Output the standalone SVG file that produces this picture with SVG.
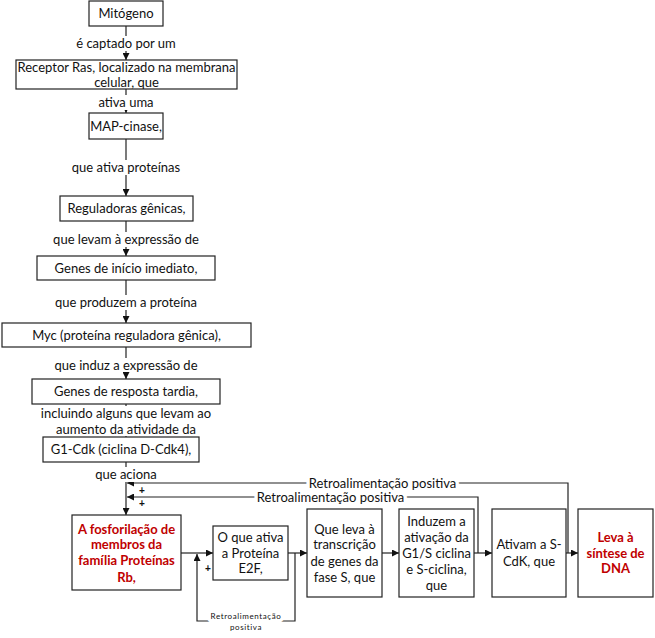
<svg xmlns="http://www.w3.org/2000/svg" width="655" height="638" viewBox="0 0 655 638">
<defs>
<marker id="ah" viewBox="0 0 10 10" refX="10" refY="5" markerWidth="7" markerHeight="7" orient="auto" markerUnits="userSpaceOnUse"><path d="M0,0 L10,5 L0,10 z" fill="#111"/></marker>
<style>
.box{fill:#fff;stroke:#222;stroke-width:1.2}
.t{font-family:Lato,"Liberation Sans",sans-serif;font-size:13px;fill:#111;text-anchor:middle}
.r{font-weight:bold;fill:#C00000}
.lbl{stroke:#fff;stroke-width:7;paint-order:stroke;stroke-linejoin:round}
.bg{fill:#fff;stroke:none}
.c{fill:none;stroke:#222;stroke-width:1.2}
.p{font-family:"Liberation Sans",sans-serif;font-size:10px;font-weight:bold;fill:#111;text-anchor:middle}
.s{font-family:Lato,"Liberation Sans",sans-serif;font-size:8px;letter-spacing:0.6px;fill:#111;text-anchor:middle}
</style>
</defs>
<rect width="655" height="638" fill="#fff"/>
<g id="connectors">
<path class="c" d="M126,26 V60" marker-end="url(#ah)"/>
<path class="c" d="M126,89 V113" marker-end="url(#ah)"/>
<path class="c" d="M126,139 V196" marker-end="url(#ah)"/>
<path class="c" d="M126,221 V256" marker-end="url(#ah)"/>
<path class="c" d="M126,280 V323" marker-end="url(#ah)"/>
<path class="c" d="M126,347 V379" marker-end="url(#ah)"/>
<path class="c" d="M126,404 V437"/>
<path class="c" d="M126,462 V515" marker-end="url(#ah)"/>
<path class="c" d="M568,553 V483 H127" marker-end="url(#ah)"/>
<path class="c" d="M478,553 V497 H127" marker-end="url(#ah)"/>
<path class="c" d="M181,553 H213" marker-end="url(#ah)"/>
<path class="c" d="M288,553 H307" marker-end="url(#ah)"/>
<path class="c" d="M382,553 H399" marker-end="url(#ah)"/>
<path class="c" d="M474,553 H492" marker-end="url(#ah)"/>
<path class="c" d="M566,553 H578" marker-end="url(#ah)"/>
<path class="c" d="M295,553 V621 H197 V554" marker-end="url(#ah)"/>
<rect class="bg" x="116" y="36" width="20" height="15"/>
<rect class="bg" x="116" y="95" width="20" height="15"/>
<rect class="bg" x="116" y="160" width="20" height="15"/>
<rect class="bg" x="116" y="232" width="20" height="15"/>
<rect class="bg" x="116" y="295" width="20" height="15"/>
<rect class="bg" x="116" y="358" width="20" height="14"/>
<rect class="bg" x="116" y="406" width="20" height="30"/>
<rect class="bg" x="116" y="467" width="20" height="15"/>
<text class="t" x="126" y="47.5">é captado por um</text>
<text class="t" x="126" y="106.5">ativa uma</text>
<text class="t" x="126" y="171.5">que ativa proteínas</text>
<text class="t" x="126" y="243.5">que levam à expressão de</text>
<text class="t" x="126" y="306.5">que produzem a proteína</text>
<text class="t" x="126" y="369.5">que induz a expressão de</text>
<text class="t" x="126" y="417.5">incluindo alguns que levam ao</text>
<text class="t" x="126" y="433.5">aumento da atividade da</text>
<text class="t" x="126" y="478.5">que aciona</text>
<text class="t lbl" x="382.5" y="487.5">Retroalimentação positiva</text>
<text class="t lbl" x="330.5" y="501.5">Retroalimentação positiva</text>
<text class="p" x="142" y="493.5">+</text>
<text class="p" x="142" y="507">+</text>
<text class="p" x="208" y="571.5">+</text>
<text class="s lbl" x="246" y="618.5">Retroalimentação</text>
<text class="s lbl" x="246" y="630">positiva</text>
</g>
<g id="n1"><rect class="box" x="89" y="1" width="74" height="25"/><text class="t" x="126" y="18">Mitógeno</text></g>
<g id="n2"><rect class="box" x="16" y="60" width="221" height="29"/><text class="t" x="126.5" y="71.5">Receptor Ras, localizado na membrana</text><text class="t" x="126.5" y="86.5">celular, que</text></g>
<g id="n3"><rect class="box" x="89" y="113" width="74" height="26"/><text class="t" x="126" y="130.5">MAP-cinase,</text></g>
<g id="n4"><rect class="box" x="60" y="196" width="133" height="25"/><text class="t" x="126.5" y="213">Reguladoras gênicas,</text></g>
<g id="n5"><rect class="box" x="37" y="256" width="178" height="24"/><text class="t" x="126" y="272.5">Genes de início imediato,</text></g>
<g id="n6"><rect class="box" x="2" y="323" width="249" height="24"/><text class="t" x="126.5" y="339.5">Myc (proteína reguladora gênica),</text></g>
<g id="n7"><rect class="box" x="32" y="379" width="188" height="25"/><text class="t" x="126" y="396">Genes de resposta tardia,</text></g>
<g id="n8"><rect class="box" x="43" y="437" width="156" height="25"/><text class="t" x="121" y="454">G1-Cdk (ciclina D-Cdk4),</text></g>
<g id="n9"><rect class="box" x="72" y="515" width="109" height="75"/>
<text class="t r" x="126.5" y="533.5">A fosforilação de</text><text class="t r" x="126.5" y="548.5">membros da</text><text class="t r" x="126.5" y="564.5">família Proteínas</text><text class="t r" x="126.5" y="581.5">Rb,</text></g>
<g id="n10"><rect class="box" x="213" y="526" width="75" height="54"/><text class="t" x="250.5" y="541.5">O que ativa</text><text class="t" x="250.5" y="557.5">a Proteína</text><text class="t" x="250.5" y="572.5">E2F,</text></g>
<g id="n11"><rect class="box" x="307" y="509" width="75" height="88"/><text class="t" x="344.5" y="533.5">Que leva à</text><text class="t" x="344.5" y="548.5">transcrição</text><text class="t" x="344.5" y="565.5">de genes da</text><text class="t" x="344.5" y="581.5">fase S, que</text></g>
<g id="n12"><rect class="box" x="399" y="509" width="75" height="88"/><text class="t" x="436.5" y="525.5">Induzem a</text><text class="t" x="436.5" y="541.5">ativação da</text><text class="t" x="436.5" y="557.5">G1/S ciclina</text><text class="t" x="436.5" y="573.5">e S-ciclina,</text><text class="t" x="436.5" y="589.5">que</text></g>
<g id="n13"><rect class="box" x="492" y="509" width="74" height="88"/><text class="t" x="529" y="548.5">Ativam a S-</text><text class="t" x="529" y="565.5">CdK, que</text></g>
<g id="n14"><rect class="box" x="578" y="509" width="75" height="88"/><text class="t r" x="615.5" y="541.5">Leva à</text><text class="t r" x="615.5" y="557.5">síntese de</text><text class="t r" x="615.5" y="572.5">DNA</text></g>
</svg>
